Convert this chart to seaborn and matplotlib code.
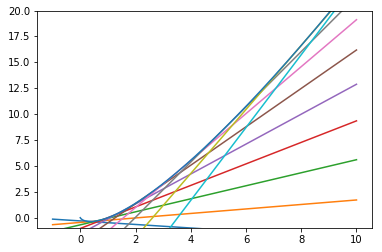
import numpy as np
import pandas as pd
import matplotlib
matplotlib.use("Agg")
import matplotlib.pyplot as plt
import seaborn as sns

# tangent points on the curve y = x*ln(x)
tangent_points = [0.31, 0.457, 0.69, 1.04, 1.56, 2.35, 3.55, 5.3, 8.1, 12.4]
line_x = [-1.0, 10.0]
curve_x = np.linspace(1e-4, 10, 400)
colors = sns.color_palette("tab10", 10)

fig = plt.figure(figsize=(382 / 72, 252 / 72), dpi=72)
ax = fig.add_axes([0.098, 0.095, 0.875, 0.863])

for a, c in zip(tangent_points, colors):
    slope = np.log(a) + 1
    xs = np.array(line_x)
    ys = slope * xs - a
    sns.lineplot(x=xs, y=ys, ax=ax, color=c, linewidth=1.5)

sns.lineplot(x=curve_x, y=curve_x * np.log(curve_x), ax=ax, color=colors[0],
             linewidth=1.5, sort=False)

ax.set_xlim(-1.55, 10.55)
ax.set_ylim(-1, 20)
ax.set_xticks([0, 2, 4, 6, 8, 10])
ax.set_yticks([0, 2.5, 5, 7.5, 10, 12.5, 15, 17.5, 20])
ax.set_yticklabels(["0.0", "2.5", "5.0", "7.5", "10.0", "12.5", "15.0", "17.5", "20.0"])
ax.tick_params(labelsize=10)
fig.savefig("out.png", dpi=72)
